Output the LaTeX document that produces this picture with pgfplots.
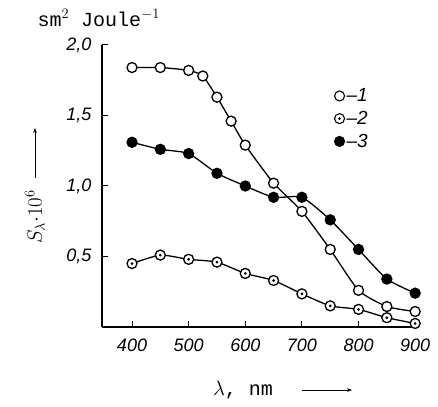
\documentclass[border=0pt]{standalone}
\usepackage{fontspec}
\setmainfont{Liberation Sans}
\setsansfont{Liberation Sans}
\setmonofont{Liberation Mono}
\usepackage{pgfplots}
\pgfplotsset{compat=1.18}
\usetikzlibrary{arrows.meta}

% circle with a dot in the middle (curve 2)
\pgfdeclareplotmark{odot}{%
  \pgfpathcircle{\pgfpointorigin}{\pgfplotmarksize}\pgfusepathqfillstroke
  \pgfscope
  \pgfsetfillcolor{black}%
  \pgfpathcircle{\pgfpointorigin}{0.3\pgfplotmarksize}\pgfusepathqfill
  \endpgfscope}

\begin{document}
\begin{tikzpicture}[x=1pt,y=1pt]
% page = 438 x 406, axis corner sits at (102,79) of the page
\begin{scope}[shift={(-102pt,-79pt)}]
\useasboundingbox (0,0) rectangle (438,406);
\end{scope}
\begin{axis}[
  scale only axis, width=316pt, height=282pt,
  xmin=347, xmax=905, ymin=0, ymax=2,
  axis lines=left,
  axis line style={-, line width=1.1pt},
  xtick={400,500,...,900},
  ytick={0.5,1,1.5,2},
  tick align=inside,
  major tick length=6pt,
  tick style={line width=1pt, black},
  tick label style={font=\fontsize{18}{20}\selectfont\itshape},
  /pgf/number format/assume math mode=true,
  /pgf/number format/1000 sep={},
  yticklabel style={/pgf/number format/.cd, use comma, fixed, fixed zerofill, precision=1, /tikz/.cd, xshift=-7pt},
  xticklabel style={yshift=-8pt},
  clip=false,
  every axis plot/.append style={line width=1.3pt, black, smooth, tension=0.35,
    mark size=5pt, mark options={line width=1.1pt, solid}},
  legend style={at={(axis cs:752,1.72)}, anchor=north west, draw=none, fill=none,
    font=\fontsize{19}{21}\selectfont\itshape, row sep=4pt,
    /tikz/every even column/.append style={column sep=2pt}},
  legend cell align=left,
]
\addplot[mark=*, mark options={fill=white}, forget plot] coordinates {
  (400,1.84) (450,1.84) (500,1.82) (525,1.78) (550,1.63) (575,1.46)
  (600,1.29) (650,1.02) (700,0.82) (750,0.55) (800,0.26) (850,0.145) (900,0.11)};
\addplot[mark=odot, mark options={fill=white}, forget plot] coordinates {
  (400,0.45) (450,0.51) (500,0.48) (550,0.46) (600,0.38) (650,0.33)
  (700,0.235) (750,0.15) (800,0.125) (850,0.066) (900,0.025)};
\addplot[mark=*, mark options={fill=black}, forget plot] coordinates {
  (400,1.31) (450,1.26) (500,1.23) (550,1.09) (600,1.00) (650,0.92)
  (700,0.92) (750,0.76) (800,0.55) (850,0.34) (900,0.24)};
\addlegendimage{only marks, mark=*, mark size=5pt, mark options={fill=white, line width=1.1pt}}
\addlegendentry{--1}
\addlegendimage{only marks, mark=odot, mark size=5pt, mark options={fill=white, line width=1.1pt}}
\addlegendentry{--2}
\addlegendimage{only marks, mark=*, mark size=5pt, mark options={fill=black, line width=1.1pt}}
\addlegendentry{--3}
\end{axis}
% axis titles, placed in page coordinates
\begin{scope}[shift={(-102pt,-79pt)}]
\node[anchor=west, font=\fontsize{20}{22}\selectfont\ttfamily] at (34,388) {sm$^{2}$ Joule$^{-1}$};
\node[rotate=90, font=\fontsize{21}{22}\selectfont] at (35,189) {$S_{\lambda}{\cdot}10^{6}$};
\draw[line width=0.8pt, -{Stealth[length=5pt]}] (35,228) -- (35,278);
\node[font=\fontsize{20}{22}\selectfont] at (243,16) {$\lambda$\texttt{, nm}};
\draw[line width=0.8pt, -{Stealth[length=5pt]}] (302,16) -- (352,16);
\end{scope}
\end{tikzpicture}
\end{document}
